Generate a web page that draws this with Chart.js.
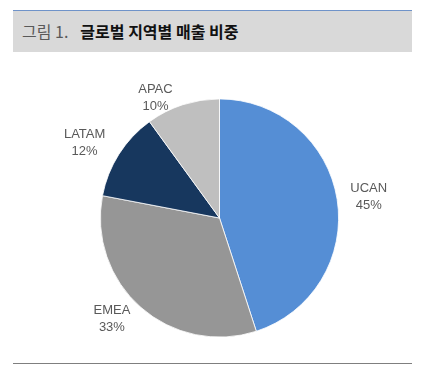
<!DOCTYPE html>
<html>
<head>
<meta charset="utf-8">
<script src="https://cdn.jsdelivr.net/npm/chart.js@4"></script>
<style>
  body { margin: 0; background: #fff; width: 426px; height: 370px; overflow: hidden; position: relative; }
  #title {
    position: absolute; left: 13px; top: 10px; width: 399px; height: 42px;
    background: #d9d9d9; border-top: 1px solid #6f93c9; box-sizing: border-box;
    font-family: "Noto Sans CJK KR", sans-serif; font-size: 16px; line-height: 40px;
    padding-left: 9px; color: #111; white-space: nowrap;
  }
  #title .num { color: #595959; font-size: 16px; }
  #title b { font-weight: bold; margin-left: 12px; }
  #foot { position: absolute; left: 13px; top: 363px; width: 399px; border-top: 1.5px solid #7f7f7f; }
  #wrap { position: absolute; left: 0; top: 0; width: 426px; height: 370px; }
</style>
</head>
<body>
<div id="title"><span class="num">그림 1.</span><b>글로벌 지역별 매출 비중</b></div>
<div id="foot"></div>
<div id="wrap"><canvas id="myChart"></canvas></div>
<script>
var regions = ['UCAN', 'EMEA', 'LATAM', 'APAC'];
var shares = [45, 33, 12, 10];
var sliceColors = ['#558ed5', '#969696', '#17375e', '#bfbfbf'];

// excel puts its data labels a bit off the radial line
var labelNudge = [[2, 2], [-9, -11], [-9, 5], [-18, 22]];

var outsideLabels = {
  id: 'outsideLabels',
  afterDatasetsDraw: function(chart) {
    var ctx = chart.ctx;
    var meta = chart.getDatasetMeta(0);
    var total = shares.reduce(function(a, b) { return a + b; }, 0);
    ctx.save();
    ctx.font = '13px "Liberation Sans", Arial, sans-serif';
    ctx.fillStyle = '#595959';
    ctx.textAlign = 'center';
    ctx.textBaseline = 'middle';
    meta.data.forEach(function(arc, i) {
      var p = arc.getProps(['x', 'y', 'startAngle', 'endAngle', 'outerRadius'], true);
      var mid = (p.startAngle + p.endAngle) / 2;
      var r = p.outerRadius + 30;
      var lx = p.x + Math.cos(mid) * r + labelNudge[i][0];
      var ly = p.y + Math.sin(mid) * r + labelNudge[i][1];
      ctx.fillText(regions[i], lx, ly - 8.5);
      ctx.fillText(Math.round(shares[i] / total * 100) + '%', lx, ly + 8.5);
    });
    ctx.restore();
  }
};

var ctx = document.getElementById('myChart').getContext('2d');
var myChart = new Chart(ctx, {
  type: 'pie',
  data: {
    labels: regions,
    datasets: [{
      data: shares,
      backgroundColor: sliceColors,
      borderColor: '#ffffff',
      borderWidth: 0.8
    }]
  },
  options: {
    responsive: true,
    maintainAspectRatio: false,
    animation: false,
    layout: { padding: { left: 100, right: 87, top: 98, bottom: 32 } },
    plugins: {
      legend: { display: false },
      tooltip: { enabled: false }
    }
  },
  plugins: [outsideLabels]
});
</script>
</body>
</html>
